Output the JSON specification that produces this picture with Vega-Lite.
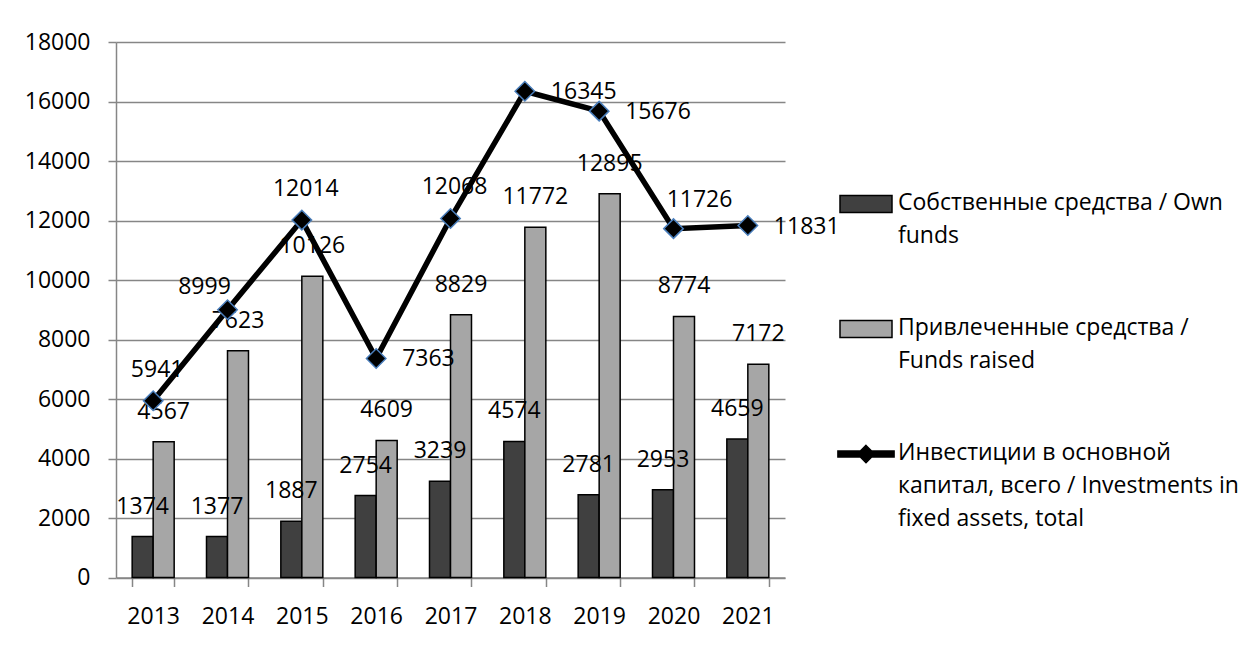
{
  "$schema": "https://vega.github.io/schema/vega-lite/v6.json",
  "width": 669,
  "height": 535.5,
  "autosize": {"type": "none"},
  "padding": {"left": 116, "top": 42, "right": 466, "bottom": 68.5},
  "background": "white",
  "config": {
    "font": "Open Sans",
    "view": {"stroke": null},
    "axis": {
      "labelFont": "Open Sans",
      "labelFontSize": 23,
      "labelColor": "black",
      "domainColor": "#868686",
      "domainWidth": 1.5,
      "tickColor": "#868686",
      "tickWidth": 1.5,
      "gridColor": "#868686",
      "gridWidth": 1.5,
      "title": null
    },
    "text": {"font": "Open Sans", "fontSize": 23, "color": "black"}
  },
  "data": {
    "values": [
      {"year": "2013", "series": "Собственные средства / Own funds", "value": 1374},
      {"year": "2014", "series": "Собственные средства / Own funds", "value": 1377},
      {"year": "2015", "series": "Собственные средства / Own funds", "value": 1887},
      {"year": "2016", "series": "Собственные средства / Own funds", "value": 2754},
      {"year": "2017", "series": "Собственные средства / Own funds", "value": 3239},
      {"year": "2018", "series": "Собственные средства / Own funds", "value": 4574},
      {"year": "2019", "series": "Собственные средства / Own funds", "value": 2781},
      {"year": "2020", "series": "Собственные средства / Own funds", "value": 2953},
      {"year": "2021", "series": "Собственные средства / Own funds", "value": 4659},
      {"year": "2013", "series": "Привлеченные средства / Funds raised", "value": 4567},
      {"year": "2014", "series": "Привлеченные средства / Funds raised", "value": 7623},
      {"year": "2015", "series": "Привлеченные средства / Funds raised", "value": 10126},
      {"year": "2016", "series": "Привлеченные средства / Funds raised", "value": 4609},
      {"year": "2017", "series": "Привлеченные средства / Funds raised", "value": 8829},
      {"year": "2018", "series": "Привлеченные средства / Funds raised", "value": 11772},
      {"year": "2019", "series": "Привлеченные средства / Funds raised", "value": 12895},
      {"year": "2020", "series": "Привлеченные средства / Funds raised", "value": 8774},
      {"year": "2021", "series": "Привлеченные средства / Funds raised", "value": 7172},
      {"year": "2013", "series": "Инвестиции в основной капитал, всего / Investments in fixed assets, total", "value": 5941},
      {"year": "2014", "series": "Инвестиции в основной капитал, всего / Investments in fixed assets, total", "value": 8999},
      {"year": "2015", "series": "Инвестиции в основной капитал, всего / Investments in fixed assets, total", "value": 12014},
      {"year": "2016", "series": "Инвестиции в основной капитал, всего / Investments in fixed assets, total", "value": 7363},
      {"year": "2017", "series": "Инвестиции в основной капитал, всего / Investments in fixed assets, total", "value": 12068},
      {"year": "2018", "series": "Инвестиции в основной капитал, всего / Investments in fixed assets, total", "value": 16345},
      {"year": "2019", "series": "Инвестиции в основной капитал, всего / Investments in fixed assets, total", "value": 15676},
      {"year": "2020", "series": "Инвестиции в основной капитал, всего / Investments in fixed assets, total", "value": 11726},
      {"year": "2021", "series": "Инвестиции в основной капитал, всего / Investments in fixed assets, total", "value": 11831}
    ]
  },
  "encoding": {
    "x": {
      "field": "year", "type": "ordinal",
      "scale": {"paddingInner": 0.435, "paddingOuter": 0.2175},
      "axis": {"labelAngle": 0, "tickBand": "extent", "tickSize": 9, "labelPadding": 19, "grid": false}
    },
    "y": {
      "field": "value", "type": "quantitative",
      "scale": {"domain": [0, 18000], "nice": false},
      "axis": {"values": [0, 2000, 4000, 6000, 8000, 10000, 12000, 14000, 16000, 18000], "format": "d", "tickSize": 8, "labelPadding": 18, "grid": true}
    }
  },
  "layer": [
    {
      "transform": [{"filter": "indexof(datum.series, 'Инвестиции') < 0"}],
      "mark": {"type": "bar", "stroke": "black", "strokeWidth": 1.5},
      "encoding": {
        "xOffset": {"field": "series", "type": "nominal", "scale": {"domain": ["Собственные средства / Own funds", "Привлеченные средства / Funds raised"], "paddingInner": 0, "paddingOuter": 0}},
        "color": {
          "field": "series", "type": "nominal",
          "scale": {
            "domain": ["Собственные средства / Own funds", "Привлеченные средства / Funds raised", "Инвестиции в основной капитал, всего / Investments in fixed assets, total"],
            "range": ["#404040", "#a6a6a6", "black"]
          },
          "legend": {
            "orient": "none",
            "legendX": 723,
            "legendY": 135,
            "title": null,
            "padding": 0,
            "symbolType": "M-1,-0.327H1V0.327H-1Z",
            "symbolSize": 2704,
            "symbolStrokeColor": "black",
            "symbolStrokeWidth": 1.5,
            "labelFont": "Open Sans",
            "labelFontSize": 23,
            "labelColor": "black",
            "labelLimit": 420,
            "labelOffset": 5,
            "labelBaseline": "top",
            "rowPadding": 54,
            "labelExpr": "datum.value == 'Собственные средства / Own funds' ? ['Собственные средства / Own', 'funds'] : datum.value == 'Привлеченные средства / Funds raised' ? ['Привлеченные средства /', 'Funds raised'] : ['Инвестиции в основной', 'капитал, всего / Investments in', 'fixed assets, total']",
            "encode": {
              "symbols": {"update": {
                "shape": {"signal": "indexof(datum.value, 'Инвестиции') >= 0 ? 'M-1.08,-0.12H1.08V0.12H-1.08ZM0,-0.33L0.33,0L0,0.33L-0.33,0Z' : 'M-1,-0.327H1V0.327H-1Z'"},
                "stroke": {"value": "black"},
                "strokeWidth": {"value": 1.5}
              }},
              "labels": {"update": {"lineHeight": {"value": 33}, "dy": {"value": -12}}}
            }
          }
        }
      }
    },
    {
      "transform": [{"filter": "indexof(datum.series, 'Инвестиции') < 0"}],
      "mark": {"type": "text", "dy": -30, "baseline": "middle", "align": "center"},
      "encoding": {
        "xOffset": {"field": "series", "type": "nominal", "scale": {"domain": ["Собственные средства / Own funds", "Привлеченные средства / Funds raised"], "paddingInner": 0, "paddingOuter": 0}},
        "text": {"field": "value", "type": "quantitative", "format": "d"}
      }
    },
    {
      "transform": [{"filter": "indexof(datum.series, 'Инвестиции') >= 0 && indexof(['2013','2015','2017'], datum.year) >= 0"}],
      "mark": {"type": "text", "dx": 4, "dy": -31, "baseline": "middle", "align": "center"},
      "encoding": {"text": {"field": "value", "type": "quantitative", "format": "d"}}
    },
    {
      "transform": [{"filter": "indexof(datum.series, 'Инвестиции') >= 0 && indexof(['2016','2018','2019','2021'], datum.year) >= 0"}],
      "mark": {"type": "text", "dx": 26, "dy": 1, "baseline": "middle", "align": "left"},
      "encoding": {"text": {"field": "value", "type": "quantitative", "format": "d"}}
    },
    {
      "transform": [{"filter": "indexof(datum.series, 'Инвестиции') >= 0 && datum.year == '2014'"}],
      "mark": {"type": "text", "dx": -23, "dy": -23, "baseline": "middle", "align": "center"},
      "encoding": {"text": {"field": "value", "type": "quantitative", "format": "d"}}
    },
    {
      "transform": [{"filter": "indexof(datum.series, 'Инвестиции') >= 0 && datum.year == '2020'"}],
      "mark": {"type": "text", "dx": 26, "dy": -29, "baseline": "middle", "align": "center"},
      "encoding": {"text": {"field": "value", "type": "quantitative", "format": "d"}}
    },
    {
      "transform": [{"filter": "indexof(datum.series, 'Инвестиции') >= 0"}],
      "mark": {"type": "line", "color": "black", "strokeWidth": 5.5, "strokeJoin": "miter"},
      "encoding": {}
    },
    {
      "transform": [{"filter": "indexof(datum.series, 'Инвестиции') >= 0"}],
      "mark": {"type": "point", "shape": "diamond", "filled": true, "fill": "black", "stroke": "#4a7ebb", "strokeWidth": 1.5, "size": 380, "opacity": 1},
      "encoding": {}
    }
  ]
}
